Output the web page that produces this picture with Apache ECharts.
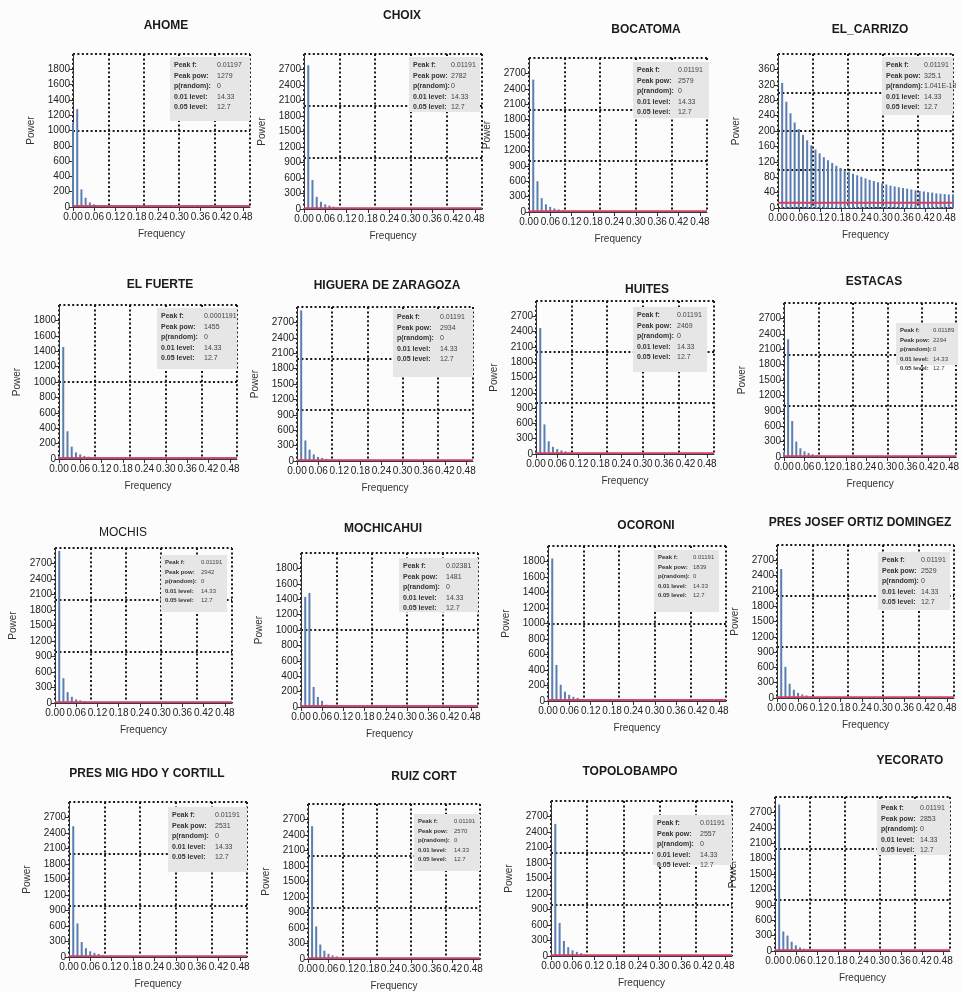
<!DOCTYPE html>
<html>
<head>
<meta charset="utf-8">
<script src="https://cdn.jsdelivr.net/npm/echarts@6/dist/echarts.min.js"></script>
<style>
html, body { margin: 0; padding: 0; background: #fcfcfc; }
#main { width: 962px; height: 992px; }
</style>
</head>
<body>
<div id="main"></div>
<script>
// station names, in reading order
const stations = ['AHOME', 'CHOIX', 'BOCATOMA', 'EL_CARRIZO',
    'EL FUERTE', 'HIGUERA DE ZARAGOZA', 'HUITES', 'ESTACAS',
    'MOCHIS', 'MOCHICAHUI', 'OCORONI', 'PRES JOSEF ORTIZ DOMINGEZ',
    'PRES MIG HDO Y CORTILL', 'RUIZ CORT', 'TOPOLOBAMPO', 'YECORATO'];

// periodogram frequencies (1/84 steps)
const freqs = [0, 0.0119, 0.0238, 0.0357, 0.0476, 0.0595, 0.0714, 0.0833, 0.0952, 0.1071,
    0.1190, 0.1310, 0.1429, 0.1548, 0.1667, 0.1786, 0.1905, 0.2024, 0.2143, 0.2262,
    0.2381, 0.2500, 0.2619, 0.2738, 0.2857, 0.2976, 0.3095, 0.3214, 0.3333, 0.3452,
    0.3571, 0.3690, 0.3810, 0.3929, 0.4048, 0.4167, 0.4286, 0.4405, 0.4524, 0.4643,
    0.4762, 0.4881, 0.5000];

// power per station (values after the listed ones are below the red level lines)
const ahome = [1100, 1279, 230, 120, 60, 35, 20, 12, 8, 6, 5];
const choix = [20, 2782, 560, 235, 140, 90, 65, 45, 30, 20, 12];
const bocatoma = [20, 2579, 600, 270, 150, 100, 70, 50, 30, 20, 12];
const elCarrizo = [0, 325, 276, 246, 222, 205, 190, 176, 163, 152, 142, 132, 124, 117, 110, 104,
    99, 94, 89, 85, 81, 77, 73, 70, 67, 64, 61, 58, 56, 54, 52, 50, 48, 46, 44, 43, 41, 40,
    38, 37, 36, 35, 35];
const elFuerte = [40, 1455, 360, 160, 85, 60, 40, 30, 20, 12, 8];
const higuera = [20, 2934, 400, 220, 130, 80, 60, 40, 25, 15];
const huites = [20, 2469, 580, 250, 140, 95, 70, 50, 30, 20];
const estacas = [100, 2294, 700, 300, 170, 110, 80, 55, 35, 20];
const mochis = [20, 2942, 480, 210, 120, 70, 50, 35, 20, 12];
const mochicahui = [70, 1430, 1481, 260, 130, 80, 30, 20, 12];
const ocoroni = [20, 1839, 465, 210, 120, 80, 55, 40, 25, 15];
const presJosef = [20, 2529, 610, 280, 160, 100, 70, 50, 30, 20];
const presMig = [20, 2531, 650, 290, 170, 110, 80, 60, 35, 20];
const ruizCort = [20, 2570, 630, 280, 160, 100, 70, 50, 30, 20];
const topolobampo = [20, 2557, 640, 290, 170, 110, 80, 55, 35, 20];
const yecorato = [20, 2853, 380, 300, 180, 110, 70, 45, 30, 20];
const powers = [ahome, choix, bocatoma, elCarrizo, elFuerte, higuera, huites, estacas,
    mochis, mochicahui, ocoroni, presJosef, presMig, ruizCort, topolobampo, yecorato];

// text of the info boxes
const peakF = ['0.01197', '0.01191', '0.01191', '0.01191', '0.0001191', '0.01191', '0.01191', '0.01189',
    '0.01191', '0.02381', '0.01191', '0.01191', '0.01191', '0.01191', '0.01191', '0.01191'];
const peakPow = ['1279', '2782', '2579', '325.1', '1455', '2934', '2469', '2294',
    '2942', '1481', '1839', '2529', '2531', '2570', '2557', '2853'];
const pRandom = ['0', '0', '0', '1.041E-13', '0', '0', '0', '0',
    '0', '0', '0', '0', '0', '0', '0', '0'];
const level01 = 14.33;
const level05 = 12.7;

// axis scales
const xMax = 0.5;
const xTick = 0.06;
const xGrid = 0.1;
const yMax = [2000, 3000, 3000, 400, 2000, 3000, 3000, 3000, 3000, 2000, 2000, 3000, 3000, 3000, 3000, 3000];
const yTick = [200, 300, 300, 40, 200, 300, 300, 300, 300, 200, 200, 300, 300, 300, 300, 300];
const yGrid = [1000, 1000, 1000, 100, 1000, 1000, 1000, 1000, 1000, 1000, 1000, 1000, 1000, 1000, 1000, 1000];

// plot box [left, top, right, bottom], title centre [x, y], info box [x, y, w, h]
const layout = [
    { plot: [73, 54, 250, 207], title: [166, 28], box: [170, 57, 80, 64] },
    { plot: [304, 54, 482, 209], title: [402, 18], box: [409, 57, 71, 55] },
    { plot: [529, 58, 707, 212], title: [646, 32], box: [633, 62, 76, 56] },
    { plot: [778, 54, 953, 208], title: [870, 32], box: [882, 57, 71, 58] },
    { plot: [59, 305, 237, 459], title: [160, 287], box: [157, 308, 80, 61] },
    { plot: [297, 307, 473, 461], title: [387, 288], box: [393, 309, 80, 68] },
    { plot: [536, 301, 714, 454], title: [647, 292], box: [633, 307, 74, 65] },
    { plot: [784, 303, 958, 457], title: [874, 284], box: [896, 323, 62, 42] },
    { plot: [55, 548, 232, 703], title: [123, 535], box: [161, 555, 66, 57], light: true },
    { plot: [301, 553, 478, 707], title: [383, 531], box: [399, 558, 79, 54] },
    { plot: [548, 546, 726, 701], title: [646, 528], box: [654, 550, 65, 62] },
    { plot: [777, 545, 954, 698], title: [860, 525], box: [878, 552, 72, 58] },
    { plot: [69, 802, 247, 957], title: [147, 776], box: [168, 807, 79, 65] },
    { plot: [308, 804, 480, 961], title: [424, 779], box: [414, 814, 66, 57] },
    { plot: [551, 801, 732, 956], title: [630, 774], box: [653, 815, 79, 50] },
    { plot: [775, 797, 950, 951], title: [910, 763], box: [877, 800, 73, 55] }
];

const W = 962, H = 992;
const FONT = '"Liberation Sans", Arial, sans-serif';
const dotted = { color: '#1a1a1a', width: 2, type: [2, 2.4] };

const option = {
    backgroundColor: '#fcfcfc',
    animation: false,
    textStyle: { fontFamily: FONT },
    title: [], grid: [], xAxis: [], yAxis: [], series: [], graphic: []
};

stations.forEach((name, i) => {
    const L = layout[i];
    const [l, t, r, b] = L.plot;
    option.title.push({
        text: name,
        left: L.title[0], top: L.title[1] - 8,
        textAlign: 'center', padding: 0,
        textStyle: { fontSize: 12, fontWeight: L.light ? 'normal' : 'bold', color: '#1a1a1a', fontFamily: FONT }
    });
    option.grid.push({ left: l, top: t, width: r - l, height: b - t, containLabel: false });

    // labelled axes
    option.xAxis.push({
        gridIndex: i, type: 'value', min: 0, max: xMax, interval: xTick,
        name: 'Frequency', nameLocation: 'middle', nameGap: 22,
        nameTextStyle: { fontSize: 10, color: '#333', fontFamily: FONT },
        axisLine: { lineStyle: { color: '#2b3a55', width: 1 } },
        axisTick: { length: 4, lineStyle: { color: '#333' } },
        axisLabel: { fontSize: 10, color: '#222', margin: 5, showMaxLabel: false, fontFamily: FONT,
            formatter: v => v.toFixed(2) },
        splitLine: { show: false }
    });
    option.yAxis.push({
        gridIndex: i, type: 'value', min: 0, max: yMax[i], interval: yTick[i],
        name: 'Power', nameLocation: 'middle', nameGap: 37, nameRotate: 90,
        nameTextStyle: { fontSize: 10, color: '#333', fontFamily: FONT },
        axisLine: { show: true, lineStyle: { color: '#333', width: 1 } },
        axisTick: { show: true, length: 4, lineStyle: { color: '#333' } },
        axisLabel: { fontSize: 10, color: '#222', margin: 3, showMaxLabel: false, fontFamily: FONT,
            formatter: v => String(v) },
        splitLine: { show: false }
    });
    // dotted grid axes
    option.xAxis.push({
        gridIndex: i, type: 'value', min: 0, max: xMax, interval: xGrid, position: 'top',
        axisLine: { show: false }, axisTick: { show: false }, axisLabel: { show: false },
        splitLine: { show: true, lineStyle: dotted }
    });
    option.yAxis.push({
        gridIndex: i, type: 'value', min: 0, max: yMax[i], interval: yGrid[i], position: 'right',
        axisLine: { show: false }, axisTick: { show: false }, axisLabel: { show: false },
        splitLine: { show: true, lineStyle: dotted }
    });

    option.series.push({
        type: 'bar', name: name,
        xAxisIndex: 2 * i, yAxisIndex: 2 * i,
        barWidth: 2,
        itemStyle: { color: '#5a7db2' },
        data: powers[i].map((p, k) => [freqs[k], p]),
        z: 3
    });
    [level01, level05].forEach(lv => {
        option.series.push({
            type: 'line', xAxisIndex: 2 * i, yAxisIndex: 2 * i,
            symbol: 'none', silent: true,
            lineStyle: { color: '#d8405c', width: 1.5 },
            data: [[0, lv], [xMax, lv]],
            z: 4
        });
    });

    const [bx, by, bw, bh] = L.box;
    const fs = bw < 70 ? 6 : 7;
    const kw = Math.round(Math.max(bw * 0.54, fs * 5.4));
    const lh = fs < 7 ? 9.5 : 10.5;
    const rows = [['Peak f:', peakF[i]], ['Peak pow:', peakPow[i]], ['p(random):', pRandom[i]],
        ['0.01 level:', String(level01)], ['0.05 level:', String(level05)]];
    option.graphic.push({
        type: 'group', z: 100, zlevel: 1,
        children: [
            { type: 'rect', x: bx, y: by, z: 100, zlevel: 1, shape: { width: bw, height: bh }, style: { fill: '#e6e6e6' } },
            {
                type: 'text', x: bx + 4, y: by + 3, z: 101, zlevel: 1,
                style: {
                    text: rows.map(rw => '{k|' + rw[0] + '}{v|' + rw[1] + '}').join('\n'),
                    rich: {
                        k: { fontSize: fs, fontWeight: 'bold', width: kw, lineHeight: lh, fill: '#333', fontFamily: FONT },
                        v: { fontSize: fs, lineHeight: lh, fill: '#444', fontFamily: FONT }
                    }
                }
            }
        ]
    });
});

const chart = echarts.init(document.getElementById('main'), null, { renderer: 'canvas', width: W, height: H });
chart.setOption(option);
</script>
</body>
</html>
